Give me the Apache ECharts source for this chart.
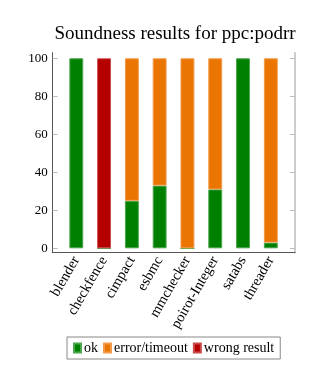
<!DOCTYPE html>
<html>
<head>
<meta charset="utf-8">
<script src="https://cdn.jsdelivr.net/npm/echarts@6/dist/echarts.min.js"></script>
<style>html,body{margin:0;padding:0;background:#fff;}#c{width:327px;height:379px;}</style>
</head>
<body>
<div id="c"></div>
<script>
const titleText = 'Soundness results for ppc:podrr';
const categories = ['blender','checkfence','cimpact','esbmc','mmchecker','poirot-Integer','satabs','threader'];
const okValues = [100, 0, 25, 33, 0, 31, 100, 3];
const errorValues = [0, 0, 75, 67, 100, 69, 0, 97];
const wrongValues = [0, 100, 0, 0, 0, 0, 0, 0];
const yTicks = [0, 20, 40, 60, 80, 100];

const FONT = 'Liberation Serif';
const chart = echarts.init(document.getElementById('c'), null, {renderer: 'canvas'});
const tickStyle = {show: true, inside: true, length: 5, lineStyle: {color: '#bbb', width: 1}};
const yBase = {
  type: 'value', gridIndex: 0, min: yTicks[0], max: yTicks[yTicks.length - 1],
  interval: yTicks[1] - yTicks[0],
  axisLine: {show: false}, splitLine: {show: false}, axisTick: tickStyle
};
function bar(name, data, color, border, hideZero) {
  return {
    name, type: 'bar', stack: 's',
    data: hideZero ? data.map(v => (v === 0 ? '-' : v)) : data,
    barWidth: '50%',
    xAxisIndex: 0, yAxisIndex: 0,
    itemStyle: {color, borderColor: border, borderWidth: 1},
    emphasis: {disabled: true}
  };
}
chart.setOption({
  animation: false,
  title: {
    text: titleText, left: 170, top: 20, textAlign: 'center',
    textStyle: {fontFamily: FONT, fontSize: 19, fontWeight: 'normal', color: '#000'}
  },
  legend: {
    left: 67, top: 337, orient: 'horizontal',
    icon: 'rect', itemWidth: 7, itemHeight: 9, itemGap: 5,
    borderColor: '#888', borderWidth: 1, padding: [4, 6],
    textStyle: {fontFamily: FONT, fontSize: 14, color: '#000', padding: [0, 0, 0, -2]},
    data: ['ok', 'error/timeout', 'wrong result']
  },
  grid: [
    {left: 62.4, right: 42.3, top: 58.3, bottom: 130.7},
    {left: 52.7, right: 32, top: 52.7, bottom: 126.3}
  ],
  xAxis: [
    {
      type: 'category', gridIndex: 0, data: categories, offset: 4.4,
      axisLine: {show: false},
      axisTick: {show: true, inside: true, alignWithLabel: true, length: 4, lineStyle: {color: '#bbb'}},
      axisLabel: {rotate: 60, fontFamily: FONT, fontSize: 14.5, color: '#000', margin: 5, interval: 0}
    },
    {
      type: 'value', gridIndex: 1, min: 0, max: 1,
      axisLine: {show: true, onZero: false, lineStyle: {color: '#555', width: 1}},
      axisTick: {show: false}, axisLabel: {show: false}, splitLine: {show: false}
    }
  ],
  yAxis: [
    Object.assign({}, yBase, {
      position: 'left', offset: 9.7,
      axisLabel: {fontFamily: FONT, fontSize: 13, color: '#000', margin: 5}
    }),
    Object.assign({}, yBase, {position: 'right', offset: 10.3, axisLabel: {show: false}}),
    {
      type: 'value', gridIndex: 1, position: 'left', min: 0, max: 1,
      axisLine: {show: true, onZero: false, lineStyle: {color: '#555', width: 1}},
      axisTick: {show: false}, axisLabel: {show: false}, splitLine: {show: false}
    },
    {
      type: 'value', gridIndex: 1, position: 'right', min: 0, max: 1,
      axisLine: {show: true, onZero: false, lineStyle: {color: '#bbb', width: 1.5}},
      axisTick: {show: false}, axisLabel: {show: false}, splitLine: {show: false}
    }
  ],
  series: [
    bar('ok', okValues, '#008000', '#4ca64c', false),
    bar('error/timeout', errorValues, '#ea7500', '#f29a4a', true),
    bar('wrong result', wrongValues, '#b50000', '#cc4c4c', true)
  ]
});
</script>
</body>
</html>
